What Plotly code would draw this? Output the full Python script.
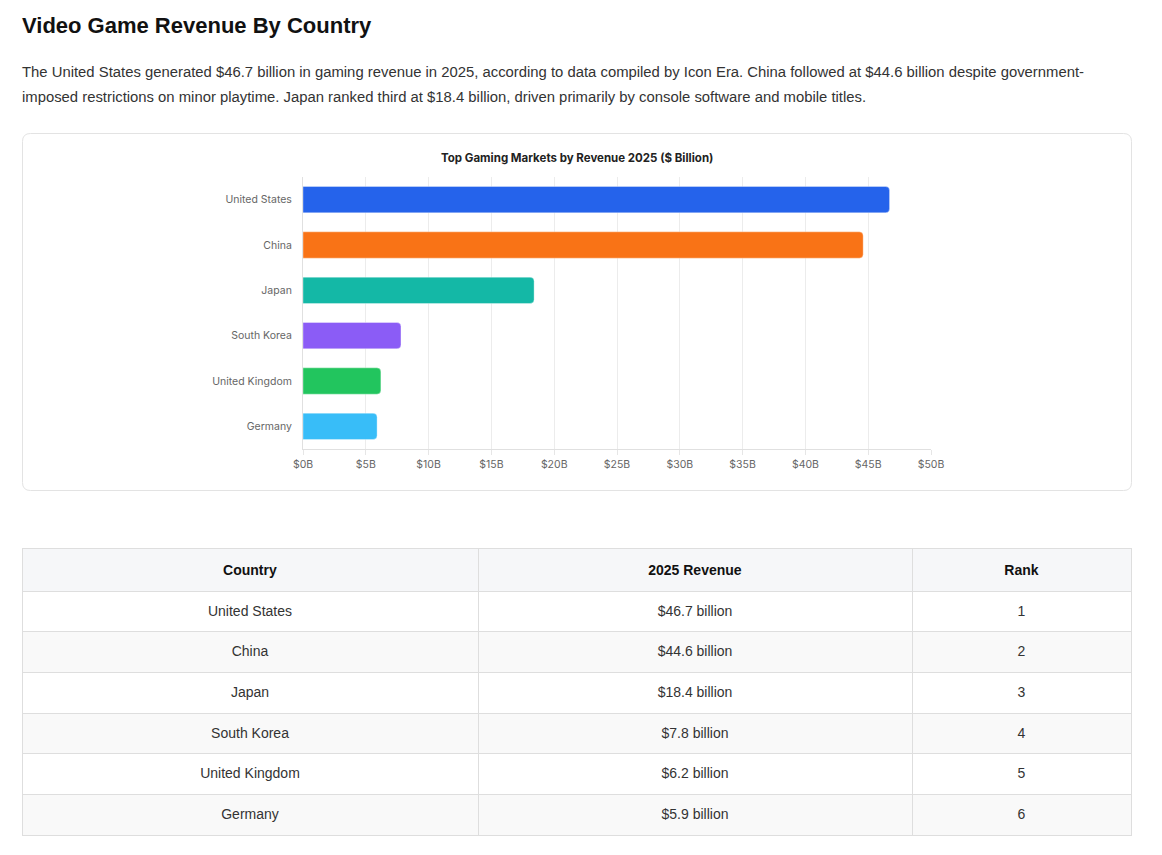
import plotly.graph_objects as go

# Chart data
countries = ["United States", "China", "Japan", "South Korea", "United Kingdom", "Germany"]
revenue = [46.7, 44.6, 18.4, 7.8, 6.2, 5.9]
ranks = [1, 2, 3, 4, 5, 6]
bar_colors = ["#2563eb", "#f97316", "#14b8a6", "#8b5cf6", "#22c55e", "#38bdf8"]

W, H = 1162, 855
OFF = 8  # page margin around the plot div


def px_x(p):
    return (p - OFF) / W


def px_y(p):
    return 1 - (p - OFF) / H


def rounded_box(x0, y0, x1, y1, r):
    # path in paper coords, built from pixel values
    rx, ry = r / W, r / H
    a, b, c, d = px_x(x0), px_y(y0), px_x(x1), px_y(y1)
    return (f"M {a+rx},{b} L {c-rx},{b} Q {c},{b} {c},{b-ry} "
            f"L {c},{d+ry} Q {c},{d} {c-rx},{d} L {a+rx},{d} "
            f"Q {a},{d} {a},{d+ry} L {a},{b-ry} Q {a},{b} {a+rx},{b} Z")


fig = go.Figure()

fig.add_trace(go.Bar(
    x=revenue, y=countries, orientation="h",
    marker=dict(color=bar_colors, line=dict(width=1, color="rgba(255,255,255,0.35)"),
                cornerradius=4),
    width=0.58,
    hoverinfo="skip",
))

# table: one layer for fills/borders, one for the text (nudged down to sit centred)
revenue_text = [f"${v} billion" for v in revenue]
row_fill = ["#ffffff" if i % 2 == 0 else "#f9f9f9" for i in range(len(countries))]
tbl_font = dict(family="Liberation Sans, Arial", size=14, color="#333")
hdr_font = dict(family="Liberation Sans, Arial", size=14, color="#111")
col_w = [456, 434, 219]
blank = [[""] * len(countries)] * 3

fig.add_trace(go.Table(
    domain=dict(x=[px_x(22), px_x(1131)], y=[px_y(836), px_y(548)]),
    columnwidth=col_w,
    header=dict(values=["", "", ""], fill_color="#f6f7f9", line_color="#dedede", height=43),
    cells=dict(values=blank, fill_color=[row_fill] * 3, line_color="#dedede", height=40.7),
))
fig.add_trace(go.Table(
    domain=dict(x=[px_x(22), px_x(1131)], y=[px_y(842), px_y(554)]),
    columnwidth=col_w,
    header=dict(
        values=["<b>Country</b>", "<b>2025 Revenue</b>", "<b>Rank</b>"],
        fill_color="rgba(0,0,0,0)", line_color="rgba(0,0,0,0)",
        align="center", height=43, font=hdr_font,
    ),
    cells=dict(
        values=[countries, revenue_text, ranks],
        fill_color="rgba(0,0,0,0)", line_color="rgba(0,0,0,0)",
        align="center", height=40.7, font=tbl_font,
    ),
))

fig.add_shape(type="path", path=rounded_box(22.5, 133.5, 1131.5, 490.5, 8),
              xref="paper", yref="paper", line=dict(color="#e3e3e3", width=1),
              fillcolor="rgba(0,0,0,0)", layer="below")

fig.add_annotation(text="<b>Video Game Revenue By Country</b>", x=px_x(20), y=px_y(26),
                   xref="paper", yref="paper", xanchor="left", yanchor="middle",
                   showarrow=False,
                   font=dict(family="Liberation Sans, Arial", size=22, color="#111"))

para = ["The United States generated $46.7 billion in gaming revenue in 2025, according to data compiled by Icon Era. China followed at $44.6 billion despite government-",
        "imposed restrictions on minor playtime. Japan ranked third at $18.4 billion, driven primarily by console software and mobile titles."]
for i, line in enumerate(para):
    fig.add_annotation(text=line, x=px_x(20), y=px_y(72 + 25 * i),
                       xref="paper", yref="paper", xanchor="left", yanchor="middle",
                       showarrow=False,
                       font=dict(family="Liberation Sans, Arial", size=14.85, color="#333"))

fig.add_annotation(text="<b>Top Gaming Markets by Revenue 2025 ($ Billion)</b>",
                   x=px_x(577), y=px_y(158), xref="paper", yref="paper",
                   xanchor="center", yanchor="middle", showarrow=False,
                   font=dict(family="Inter", size=11.5, color="#222"))

fig.update_layout(
    width=W, height=H,
    margin=dict(l=0, r=0, t=0, b=0, autoexpand=False),
    paper_bgcolor="white", plot_bgcolor="white",
    showlegend=False,
    font=dict(family="Inter", size=10, color="#666"),
    xaxis=dict(domain=[px_x(303), px_x(931)], range=[0, 50], dtick=5, automargin=False,
               tickprefix="$", ticksuffix="B", showgrid=True, gridcolor="#ececec",
               zeroline=False, showline=True, linecolor="#e0e0e0",
               ticks="outside", ticklen=5, tickcolor="#e6e6e6",
               tickfont=dict(family="Inter", size=10.5, color="#666")),
    yaxis=dict(domain=[px_y(449), px_y(177)], autorange="reversed", automargin=False,
               showgrid=False, showline=True, linecolor="#e0e0e0",
               ticks="outside", ticklen=8, tickcolor="rgba(0,0,0,0)",
               tickfont=dict(family="Inter", size=10.5, color="#666")),
)

fig.write_html("out.html")
